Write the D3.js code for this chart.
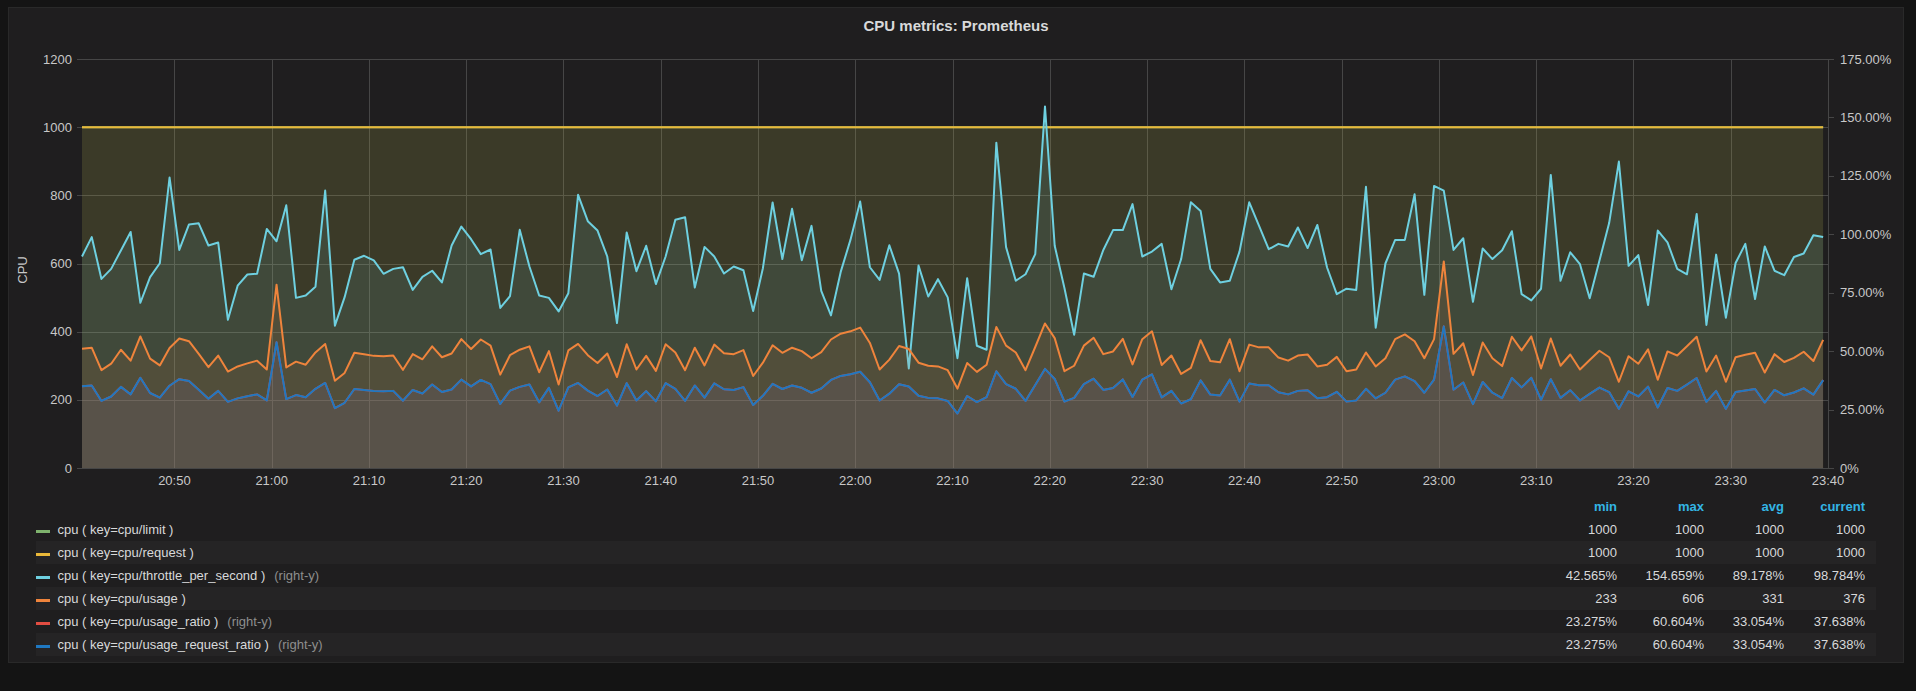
<!DOCTYPE html>
<html>
<head>
<meta charset="utf-8">
<script src="https://cdn.jsdelivr.net/npm/d3@7"></script>
<style>
  body { margin: 0; background: #141414; }
  svg text { font-family: "Liberation Sans", Arial, Helvetica, sans-serif; }
</style>
</head>
<body>
<svg width="1916" height="691"></svg>
<script>
// one point per minute, starting 20:40:30
const startTime = new Date(2019, 0, 1, 20, 40, 30);
const endTime = new Date(2019, 0, 1, 23, 40, 0);

const limitCpu = 1000;
const requestCpu = 1000;

// cpu/throttle_per_second (right-y, %)
const throttle = [
  90.5, 98.8, 80.9, 85.2, 93.1, 101.0, 70.7, 81.7, 87.6, 124.3, 93.3, 104.2, 104.7, 95.2, 96.5, 63.4, 78.0, 82.8, 83.1, 102.3, 97.0, 112.4, 72.8, 73.8, 77.5, 118.7, 60.9, 73.1, 89.1, 90.8,
  88.8, 83.1, 85.2, 85.9, 76.2, 81.8, 84.4, 79.4, 95.2, 103.3, 97.9, 91.5, 93.5, 68.5, 73.5, 101.9, 86.2, 73.8, 72.8, 67.0, 74.8, 116.9, 105.6, 101.6, 90.5, 62.0, 100.8, 84.2, 95.1, 78.7,
  90.5, 106.2, 107.3, 77.2, 94.6, 90.5, 83.2, 86.2, 84.6, 67.2, 85.5, 113.6, 89.4, 110.9, 88.9, 103.6, 75.8, 65.3, 83.9, 97.6, 114.0, 85.9, 80.5, 95.3, 83.2, 42.6, 86.6, 73.4, 80.8, 73.0,
  47.0, 81.2, 52.3, 50.6, 139.2, 94.5, 80.1, 82.9, 91.5, 154.7, 95.1, 77.0, 57.0, 83.2, 81.8, 93.3, 101.8, 101.8, 112.9, 90.5, 92.6, 95.9, 76.5, 89.4, 113.7, 110.0, 85.2, 79.4, 80.1, 92.6,
  113.7, 103.7, 93.6, 95.9, 94.8, 102.9, 94.1, 104.0, 85.8, 74.4, 76.7, 76.2, 120.3, 60.0, 87.5, 97.6, 97.6, 117.1, 74.1, 120.7, 118.7, 93.3, 98.3, 71.1, 93.9, 89.4, 93.2, 101.3, 74.4, 71.7,
  76.7, 125.4, 80.1, 92.3, 87.2, 72.6, 88.7, 104.8, 131.1, 86.5, 91.1, 69.7, 101.6, 96.5, 85.2, 82.9, 108.7, 61.2, 91.3, 64.3, 87.7, 95.9, 72.3, 94.8, 84.4, 82.5, 90.3, 91.8, 99.6, 98.8
];

// cpu/usage (left-y)
const usage = [
  350, 353, 287, 306, 347, 315, 386, 321, 301, 352, 380, 372, 335, 296, 330, 283, 298, 307, 315, 289, 538, 295, 312, 303, 339, 364, 256, 279, 338, 334,
  329, 328, 330, 288, 334, 319, 357, 325, 336, 378, 349, 377, 359, 274, 331, 347, 357, 281, 343, 245, 345, 364, 331, 308, 336, 267, 363, 289, 329, 285,
  363, 339, 287, 353, 301, 362, 337, 334, 346, 270, 309, 360, 338, 353, 343, 322, 340, 377, 394, 401, 412, 367, 289, 318, 358, 349, 309, 300, 298, 287,
  233, 308, 282, 303, 414, 359, 339, 287, 355, 424, 381, 284, 300, 359, 382, 334, 342, 379, 304, 378, 401, 302, 330, 276, 294, 375, 314, 310, 378, 284,
  362, 354, 354, 324, 315, 330, 333, 298, 303, 326, 284, 289, 339, 298, 322, 378, 392, 372, 322, 378, 606, 335, 366, 273, 368, 322, 299, 385, 345, 386,
  292, 380, 300, 333, 289, 317, 344, 325, 253, 328, 306, 348, 259, 342, 330, 357, 385, 283, 330, 253, 325, 332, 338, 280, 334, 311, 323, 341, 314, 376
];

// cpu/usage_ratio and cpu/usage_request_ratio (right-y, %), the two lines overlap
const usageRatio = [
  35.0, 35.3, 28.7, 30.6, 34.7, 31.5, 38.6, 32.1, 30.1, 35.2, 38.0, 37.2, 33.5, 29.6, 33.0, 28.3, 29.8, 30.7, 31.5, 28.9, 53.8, 29.5, 31.2, 30.3, 33.9, 36.4, 25.6, 27.9, 33.8, 33.4,
  32.9, 32.8, 33.0, 28.8, 33.4, 31.9, 35.7, 32.5, 33.6, 37.8, 34.9, 37.7, 35.9, 27.4, 33.1, 34.7, 35.7, 28.1, 34.3, 24.5, 34.5, 36.4, 33.1, 30.8, 33.6, 26.7, 36.3, 28.9, 32.9, 28.5,
  36.3, 33.9, 28.7, 35.3, 30.1, 36.2, 33.7, 33.4, 34.6, 27.0, 30.9, 36.0, 33.8, 35.3, 34.3, 32.2, 34.0, 37.7, 39.4, 40.1, 41.2, 36.7, 28.9, 31.8, 35.8, 34.9, 30.9, 30.0, 29.8, 28.7,
  23.3, 30.8, 28.2, 30.3, 41.4, 35.9, 33.9, 28.7, 35.5, 42.4, 38.1, 28.4, 30.0, 35.9, 38.2, 33.4, 34.2, 37.9, 30.4, 37.8, 40.1, 30.2, 33.0, 27.6, 29.4, 37.5, 31.4, 31.0, 37.8, 28.4,
  36.2, 35.4, 35.4, 32.4, 31.5, 33.0, 33.3, 29.8, 30.3, 32.6, 28.4, 28.9, 33.9, 29.8, 32.2, 37.8, 39.2, 37.2, 32.2, 37.8, 60.6, 33.5, 36.6, 27.3, 36.8, 32.2, 29.9, 38.5, 34.5, 38.6,
  29.2, 38.0, 30.0, 33.3, 28.9, 31.7, 34.4, 32.5, 25.3, 32.8, 30.6, 34.8, 25.9, 34.2, 33.0, 35.7, 38.5, 28.3, 33.0, 25.3, 32.5, 33.2, 33.8, 28.0, 33.4, 31.1, 32.3, 34.1, 31.4, 37.6
];

const leftTicks = [0, 200, 400, 600, 800, 1000, 1200];
const rightTicks = [0, 25, 50, 75, 100, 125, 150, 175];

// legend table
const seriesNames = ["cpu/limit", "cpu/request", "cpu/throttle_per_second", "cpu/usage", "cpu/usage_ratio", "cpu/usage_request_ratio"];
const seriesColors = ["#7eb26d", "#eab839", "#6ed0e0", "#ef843c", "#e24d42", "#1f78c1"];
const seriesRightY = [false, false, true, false, true, true];
const statHeaders = ["min", "max", "avg", "current"];
const statMin = ["1000", "1000", "42.565%", "233", "23.275%", "23.275%"];
const statMax = ["1000", "1000", "154.659%", "606", "60.604%", "60.604%"];
const statAvg = ["1000", "1000", "89.178%", "331", "33.054%", "33.054%"];
const statCurrent = ["1000", "1000", "98.784%", "376", "37.638%", "37.638%"];

const svg = d3.select("svg");
const margin = { top: 59, left: 82, right: 1828, bottom: 468 };

const times = throttle.map((d, i) => d3.timeMinute.offset(startTime, i));

const x = d3.scaleTime().domain([startTime, endTime]).range([margin.left, margin.right]);
const yLeft = d3.scaleLinear().domain([0, 1200]).range([margin.bottom, margin.top]);
const yRight = d3.scaleLinear().domain([0, 175]).range([margin.bottom, margin.top]);

// panel
svg.append("rect")
  .attr("x", 8.5).attr("y", 7.5).attr("width", 1895).attr("height", 655)
  .attr("fill", "#1f1e1f").attr("stroke", "#292929");

svg.append("text")
  .attr("x", 956).attr("y", 31)
  .attr("text-anchor", "middle")
  .attr("fill", "#d8d9da")
  .style("font-size", "15px").style("font-weight", "bold")
  .text("CPU metrics: Prometheus");

// grid
const grid = svg.append("g");
grid.selectAll(".hgrid")
  .data(leftTicks)
  .enter().append("line")
  .attr("x1", margin.left - 5).attr("x2", margin.right)
  .attr("y1", d => Math.round(yLeft(d)) + 0.5).attr("y2", d => Math.round(yLeft(d)) + 0.5)
  .attr("stroke", "#464646");

const xTicks = x.ticks(d3.timeMinute.every(10)).filter(t => x(t) >= margin.left + 20);
grid.selectAll(".vgrid")
  .data(xTicks)
  .enter().append("line")
  .attr("x1", d => Math.round(x(d)) + 0.5).attr("x2", d => Math.round(x(d)) + 0.5)
  .attr("y1", margin.top).attr("y2", margin.bottom)
  .attr("stroke", "#464646");

grid.selectAll(".rtick")
  .data(rightTicks)
  .enter().append("line")
  .attr("x1", margin.right).attr("x2", margin.right + 6)
  .attr("y1", d => Math.round(yRight(d)) + 0.5).attr("y2", d => Math.round(yRight(d)) + 0.5)
  .attr("stroke", "#464646");

// axis labels
svg.append("g").selectAll("text")
  .data(leftTicks)
  .enter().append("text")
  .attr("x", 72).attr("y", d => yLeft(d) + 4.5)
  .attr("text-anchor", "end")
  .attr("fill", "#c8c8c8").style("font-size", "13px")
  .text(d => d);

svg.append("g").selectAll("text")
  .data(rightTicks)
  .enter().append("text")
  .attr("x", 1840).attr("y", d => yRight(d) + 4.5)
  .attr("fill", "#c8c8c8").style("font-size", "13px")
  .text(d => d === 0 ? "0%" : d.toFixed(2) + "%");

const fmt = d3.timeFormat("%H:%M");
svg.append("g").selectAll("text")
  .data(xTicks)
  .enter().append("text")
  .attr("x", d => x(d)).attr("y", 485)
  .attr("text-anchor", "middle")
  .attr("fill", "#c8c8c8").style("font-size", "13px")
  .text(d => fmt(d));

svg.append("text")
  .attr("transform", "translate(27,270) rotate(-90)")
  .attr("text-anchor", "middle")
  .attr("fill", "#c8c8c8").style("font-size", "13px")
  .text("CPU");

// series, drawn in legend order with a 0.1 fill down to zero
const plot = svg.append("g");

function drawSeries(pts, yScale, color) {
  const area = d3.area().x(d => x(d[0])).y0(yScale(0)).y1(d => yScale(d[1]));
  const line = d3.line().x(d => x(d[0])).y(d => yScale(d[1]));
  plot.append("path").attr("d", area(pts)).attr("fill", color).attr("fill-opacity", 0.1);
  plot.append("path").attr("d", line(pts)).attr("fill", "none")
    .attr("stroke", color).attr("stroke-width", 2).attr("stroke-linejoin", "round");
}

const toPoints = values => values.map((v, i) => [times[i], v]);
const flatPoints = value => [[times[0], value], [times[times.length - 1], value]];

drawSeries(flatPoints(limitCpu), yLeft, seriesColors[0]);
drawSeries(flatPoints(requestCpu), yLeft, seriesColors[1]);
drawSeries(toPoints(throttle), yRight, seriesColors[2]);
drawSeries(toPoints(usage), yLeft, seriesColors[3]);
drawSeries(toPoints(usageRatio), yRight, seriesColors[4]);
drawSeries(toPoints(usageRatio), yRight, seriesColors[5]);

// legend
const legend = svg.append("g");
const statCols = [statMin, statMax, statAvg, statCurrent];
const statX = [1617, 1704, 1784, 1865];

legend.selectAll(".hdr")
  .data(statHeaders)
  .enter().append("text")
  .attr("x", (d, i) => statX[i]).attr("y", 511)
  .attr("text-anchor", "end")
  .attr("fill", "#33b5e5")
  .style("font-size", "13px").style("font-weight", "bold")
  .text(d => d);

const rowTop = 518, rowH = 23;
const rows = legend.selectAll(".row")
  .data(seriesNames)
  .enter().append("g")
  .attr("transform", (d, i) => `translate(0,${rowTop + i * rowH})`);

rows.filter((d, i) => i % 2 === 1)
  .append("rect")
  .attr("x", 36).attr("y", 0).attr("width", 1840).attr("height", rowH)
  .attr("fill", "#252425");

rows.append("rect")
  .attr("x", 36).attr("y", 12).attr("width", 14).attr("height", 3)
  .attr("fill", (d, i) => seriesColors[i]);

const labels = rows.append("text")
  .attr("x", 57.5).attr("y", 16)
  .attr("fill", "#d8d9da").style("font-size", "13px");
labels.append("tspan").text(d => `cpu ( key=${d} )`);
labels.filter((d, i) => seriesRightY[i])
  .append("tspan").attr("dx", 9).attr("fill", "#8e8e8e").text("(right-y)");

statCols.forEach((col, c) => {
  rows.append("text")
    .attr("x", statX[c]).attr("y", 16)
    .attr("text-anchor", "end")
    .attr("fill", "#d8d9da").style("font-size", "13px")
    .text((d, i) => col[i]);
});
</script>
</body>
</html>
